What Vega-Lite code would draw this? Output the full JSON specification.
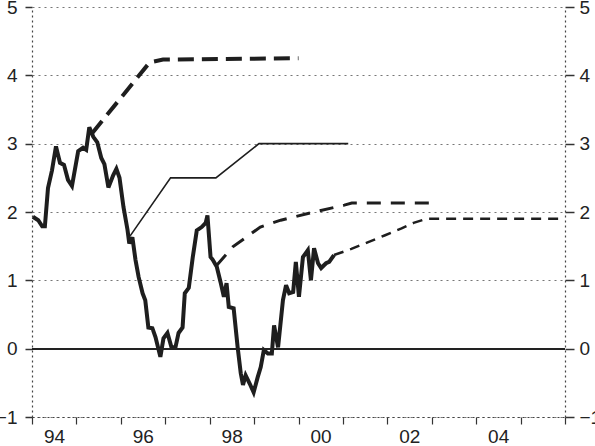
{
  "$schema": "https://vega.github.io/schema/vega-lite/v6.json",
  "width": 533,
  "height": 410,
  "autosize": {"type": "none"},
  "padding": {"left": 32, "top": 7, "right": 30, "bottom": 29},
  "background": "white",
  "config": {"view": {"stroke": null}, "font": "Liberation Sans"},
  "data": {"values": [
      {"s": "a", "x": 1994.02, "y": 1.93}, {"s": "a", "x": 1994.14, "y": 1.88}, {"s": "a", "x": 1994.23, "y": 1.79}, {"s": "a", "x": 1994.29, "y": 1.79},
      {"s": "a", "x": 1994.36, "y": 2.35}, {"s": "a", "x": 1994.45, "y": 2.61}, {"s": "a", "x": 1994.54, "y": 2.96}, {"s": "a", "x": 1994.63, "y": 2.72},
      {"s": "a", "x": 1994.72, "y": 2.69}, {"s": "a", "x": 1994.81, "y": 2.47}, {"s": "a", "x": 1994.90, "y": 2.38}, {"s": "a", "x": 1995.04, "y": 2.89},
      {"s": "a", "x": 1995.15, "y": 2.94}, {"s": "a", "x": 1995.22, "y": 2.91}, {"s": "a", "x": 1995.29, "y": 3.24}, {"s": "a", "x": 1995.38, "y": 3.10},
      {"s": "a", "x": 1995.47, "y": 3.02}, {"s": "a", "x": 1995.56, "y": 2.79}, {"s": "a", "x": 1995.63, "y": 2.70}, {"s": "a", "x": 1995.72, "y": 2.36},
      {"s": "a", "x": 1995.83, "y": 2.54}, {"s": "a", "x": 1995.90, "y": 2.63}, {"s": "a", "x": 1995.97, "y": 2.50}, {"s": "a", "x": 1996.06, "y": 2.07},
      {"s": "a", "x": 1996.15, "y": 1.74}, {"s": "a", "x": 1996.19, "y": 1.54}, {"s": "a", "x": 1996.26, "y": 1.63}, {"s": "a", "x": 1996.33, "y": 1.30},
      {"s": "a", "x": 1996.40, "y": 1.05}, {"s": "a", "x": 1996.49, "y": 0.81}, {"s": "a", "x": 1996.55, "y": 0.71}, {"s": "a", "x": 1996.62, "y": 0.31},
      {"s": "a", "x": 1996.71, "y": 0.30}, {"s": "a", "x": 1996.78, "y": 0.17}, {"s": "a", "x": 1996.89, "y": -0.12}, {"s": "a", "x": 1996.96, "y": 0.15},
      {"s": "a", "x": 1997.05, "y": 0.23}, {"s": "a", "x": 1997.14, "y": 0.02}, {"s": "a", "x": 1997.23, "y": 0.02}, {"s": "a", "x": 1997.30, "y": 0.23},
      {"s": "a", "x": 1997.39, "y": 0.31}, {"s": "a", "x": 1997.44, "y": 0.81}, {"s": "a", "x": 1997.53, "y": 0.89}, {"s": "a", "x": 1997.62, "y": 1.34},
      {"s": "a", "x": 1997.71, "y": 1.73}, {"s": "a", "x": 1997.82, "y": 1.78}, {"s": "a", "x": 1997.91, "y": 1.84}, {"s": "a", "x": 1997.95, "y": 1.95},
      {"s": "a", "x": 1998.02, "y": 1.34}, {"s": "a", "x": 1998.07, "y": 1.30}, {"s": "a", "x": 1998.16, "y": 1.20}, {"s": "a", "x": 1998.25, "y": 0.96},
      {"s": "a", "x": 1998.32, "y": 0.76}, {"s": "a", "x": 1998.38, "y": 0.96}, {"s": "a", "x": 1998.43, "y": 0.61}, {"s": "a", "x": 1998.54, "y": 0.59},
      {"s": "a", "x": 1998.63, "y": 0.02}, {"s": "a", "x": 1998.70, "y": -0.36}, {"s": "a", "x": 1998.75, "y": -0.53}, {"s": "a", "x": 1998.81, "y": -0.39},
      {"s": "a", "x": 1998.90, "y": -0.51}, {"s": "a", "x": 1998.99, "y": -0.64}, {"s": "a", "x": 1999.08, "y": -0.42}, {"s": "a", "x": 1999.15, "y": -0.27},
      {"s": "a", "x": 1999.22, "y": -0.02}, {"s": "a", "x": 1999.31, "y": -0.07}, {"s": "a", "x": 1999.40, "y": -0.07}, {"s": "a", "x": 1999.45, "y": 0.34},
      {"s": "a", "x": 1999.54, "y": 0.02}, {"s": "a", "x": 1999.65, "y": 0.71}, {"s": "a", "x": 1999.72, "y": 0.93}, {"s": "a", "x": 1999.79, "y": 0.81},
      {"s": "a", "x": 1999.88, "y": 0.83}, {"s": "a", "x": 1999.94, "y": 1.27}, {"s": "a", "x": 2000.01, "y": 0.76}, {"s": "a", "x": 2000.10, "y": 1.34},
      {"s": "a", "x": 2000.21, "y": 1.44}, {"s": "a", "x": 2000.28, "y": 1.00}, {"s": "a", "x": 2000.35, "y": 1.47}, {"s": "a", "x": 2000.44, "y": 1.25},
      {"s": "a", "x": 2000.51, "y": 1.18}, {"s": "a", "x": 2000.62, "y": 1.25}, {"s": "a", "x": 2000.69, "y": 1.27}, {"s": "a", "x": 2000.80, "y": 1.37},
      {"s": "b", "x": 1995.35, "y": 3.15}, {"s": "b", "x": 1996.65, "y": 4.19}, {"s": "b", "x": 1996.95, "y": 4.23}, {"s": "b", "x": 2000.0, "y": 4.25},
      {"s": "c", "x": 1996.21, "y": 1.65}, {"s": "c", "x": 1997.12, "y": 2.5}, {"s": "c", "x": 1998.14, "y": 2.5}, {"s": "c", "x": 1999.11, "y": 3.0}, {"s": "c", "x": 2001.12, "y": 3.0},
      {"s": "d", "x": 1998.16, "y": 1.22}, {"s": "d", "x": 1998.52, "y": 1.49}, {"s": "d", "x": 1999.14, "y": 1.78}, {"s": "d", "x": 1999.6, "y": 1.88},
      {"s": "d", "x": 2000.35, "y": 2.0}, {"s": "d", "x": 2001.03, "y": 2.1}, {"s": "d", "x": 2001.2, "y": 2.13}, {"s": "d", "x": 2003.04, "y": 2.13},
      {"s": "e", "x": 2000.8, "y": 1.37}, {"s": "e", "x": 2001.19, "y": 1.46}, {"s": "e", "x": 2001.57, "y": 1.56}, {"s": "e", "x": 2001.95, "y": 1.66},
      {"s": "e", "x": 2002.32, "y": 1.76}, {"s": "e", "x": 2002.59, "y": 1.84}, {"s": "e", "x": 2002.88, "y": 1.9}, {"s": "e", "x": 2005.9, "y": 1.9}
  ]},
  "resolve": {"axis": {"y": "independent"}},
  "layer": [
    {
      "transform": [{"filter": "datum.s == 'a'"}],
      "mark": {"type": "line", "color": "#1e1e1e", "strokeWidth": 4, "strokeJoin": "miter", "strokeMiterLimit": 3},
      "encoding": {
        "x": {"field": "x", "type": "quantitative",
          "scale": {"domain": [1994, 2006], "nice": false, "zero": false},
          "axis": {"title": null, "values": [1994, 1995, 1996, 1997, 1998, 1999, 2000, 2001, 2002, 2003, 2004, 2005, 2006],
            "labelExpr": "(datum.value % 2 == 0 && datum.value < 2006) ? substring(toString(datum.value), 2, 4) : ''",
            "labelOffset": 22, "labelOverlap": false, "labelBound": false, "labelFlush": false,
            "tickSize": 7, "tickColor": "#333", "tickWidth": 1.2,
            "domainDash": [2, 3], "domainColor": "#444", "domainWidth": 1.2,
            "labelFontSize": 19, "labelColor": "#222", "labelPadding": 3, "grid": false}},
        "y": {"field": "y", "type": "quantitative",
          "scale": {"domain": [-1, 5], "nice": false, "zero": false},
          "axis": {"title": null, "orient": "left", "values": [-1, 0, 1, 2, 3, 4, 5],
            "grid": true, "gridDash": [2, 4], "gridColor": "#777", "gridWidth": 1.2,
            "domainDash": [2, 3], "domainColor": "#444", "domainWidth": 1.2,
            "tickSize": 7, "tickColor": "#333", "tickWidth": 1.5,
            "labelFontSize": 19, "labelColor": "#222", "labelPadding": 8}}
      }
    },
    {
      "transform": [{"filter": "datum.s == 'b'"}],
      "mark": {"type": "line", "color": "#1e1e1e", "strokeWidth": 4, "strokeDash": [16, 8]},
      "encoding": {
        "x": {"field": "x", "type": "quantitative",
          "scale": {"domain": [1994, 2006], "nice": false, "zero": false},
          "axis": {"title": null, "values": [1994, 1995, 1996, 1997, 1998, 1999, 2000, 2001, 2002, 2003, 2004, 2005, 2006],
            "labelExpr": "(datum.value % 2 == 0 && datum.value < 2006) ? substring(toString(datum.value), 2, 4) : ''",
            "labelOffset": 22, "labelOverlap": false, "labelBound": false, "labelFlush": false,
            "tickSize": 7, "tickColor": "#333", "tickWidth": 1.2,
            "domainDash": [2, 3], "domainColor": "#444", "domainWidth": 1.2,
            "labelFontSize": 19, "labelColor": "#222", "labelPadding": 3, "grid": false}},
        "y": {"field": "y", "type": "quantitative",
          "axis": {"title": null, "orient": "right", "values": [-1, 0, 1, 2, 3, 4, 5], "grid": false,
            "domainDash": [2, 3], "domainColor": "#444", "domainWidth": 1.2,
            "tickSize": 9, "tickColor": "#333", "tickWidth": 1.5,
            "labelFontSize": 19, "labelColor": "#222", "labelPadding": 5}}
      }
    },
    {
      "transform": [{"filter": "datum.s == 'c'"}],
      "mark": {"type": "line", "color": "#1e1e1e", "strokeWidth": 1.6},
      "encoding": {
        "x": {"field": "x", "type": "quantitative",
          "scale": {"domain": [1994, 2006], "nice": false, "zero": false},
          "axis": {"title": null, "values": [1994, 1995, 1996, 1997, 1998, 1999, 2000, 2001, 2002, 2003, 2004, 2005, 2006],
            "labelExpr": "(datum.value % 2 == 0 && datum.value < 2006) ? substring(toString(datum.value), 2, 4) : ''",
            "labelOffset": 22, "labelOverlap": false, "labelBound": false, "labelFlush": false,
            "tickSize": 7, "tickColor": "#333", "tickWidth": 1.2,
            "domainDash": [2, 3], "domainColor": "#444", "domainWidth": 1.2,
            "labelFontSize": 19, "labelColor": "#222", "labelPadding": 3, "grid": false}},
        "y": {"field": "y", "type": "quantitative", "axis": null}
      }
    },
    {
      "transform": [{"filter": "datum.s == 'd'"}],
      "mark": {"type": "line", "color": "#1e1e1e", "strokeWidth": 3, "strokeDash": [14, 10]},
      "encoding": {
        "x": {"field": "x", "type": "quantitative",
          "scale": {"domain": [1994, 2006], "nice": false, "zero": false},
          "axis": {"title": null, "values": [1994, 1995, 1996, 1997, 1998, 1999, 2000, 2001, 2002, 2003, 2004, 2005, 2006],
            "labelExpr": "(datum.value % 2 == 0 && datum.value < 2006) ? substring(toString(datum.value), 2, 4) : ''",
            "labelOffset": 22, "labelOverlap": false, "labelBound": false, "labelFlush": false,
            "tickSize": 7, "tickColor": "#333", "tickWidth": 1.2,
            "domainDash": [2, 3], "domainColor": "#444", "domainWidth": 1.2,
            "labelFontSize": 19, "labelColor": "#222", "labelPadding": 3, "grid": false}},
        "y": {"field": "y", "type": "quantitative", "axis": null}
      }
    },
    {
      "transform": [{"filter": "datum.s == 'e'"}],
      "mark": {"type": "line", "color": "#1e1e1e", "strokeWidth": 2.5, "strokeDash": [10, 7]},
      "encoding": {
        "x": {"field": "x", "type": "quantitative",
          "scale": {"domain": [1994, 2006], "nice": false, "zero": false},
          "axis": {"title": null, "values": [1994, 1995, 1996, 1997, 1998, 1999, 2000, 2001, 2002, 2003, 2004, 2005, 2006],
            "labelExpr": "(datum.value % 2 == 0 && datum.value < 2006) ? substring(toString(datum.value), 2, 4) : ''",
            "labelOffset": 22, "labelOverlap": false, "labelBound": false, "labelFlush": false,
            "tickSize": 7, "tickColor": "#333", "tickWidth": 1.2,
            "domainDash": [2, 3], "domainColor": "#444", "domainWidth": 1.2,
            "labelFontSize": 19, "labelColor": "#222", "labelPadding": 3, "grid": false}},
        "y": {"field": "y", "type": "quantitative", "axis": null}
      }
    },
    {
      "mark": {"type": "rule", "color": "#222", "strokeWidth": 1.5},
      "encoding": {"y": {"datum": 0, "type": "quantitative", "axis": null}}
    }
  ]
}
